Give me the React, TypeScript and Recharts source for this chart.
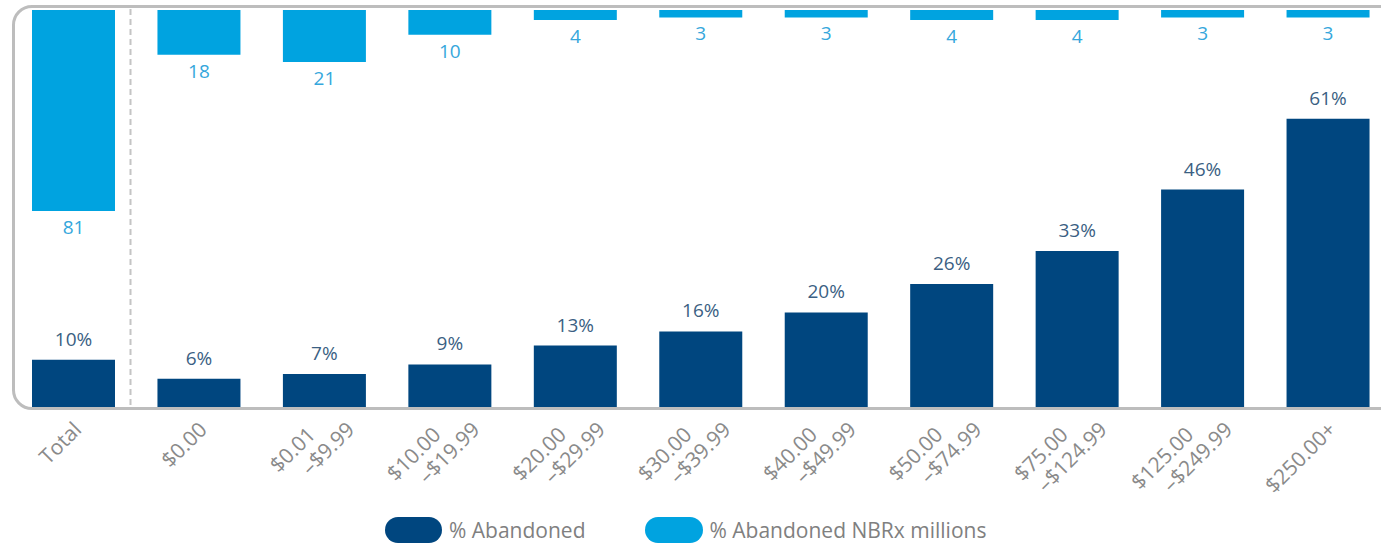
import React from 'react';
import { BarChart, Bar, XAxis, YAxis, LabelList, Legend } from 'recharts';

// Price ranges (out-of-pocket cost per Rx)
const categories = [
  'Total',
  '$0.00',
  '$0.01–$9.99',
  '$10.00–$19.99',
  '$20.00–$29.99',
  '$30.00–$39.99',
  '$40.00–$49.99',
  '$50.00–$74.99',
  '$75.00–$124.99',
  '$125.00–$249.99',
  '$250.00+',
];

// % Abandoned (dark bars, from bottom)
const pctAbandoned = [10, 6, 7, 9, 13, 16, 20, 26, 33, 46, 61];

// % Abandoned NBRx millions (light bars, hanging from top)
const nbrxMillions = [81, 18, 21, 10, 4, 3, 3, 4, 4, 3, 3];

const DARK = '#00467f';
const LIGHT = '#00a3e0';
const FONT = '"Open Sans", sans-serif';

const data = categories.map((name, i) => ({
  name,
  pct: pctAbandoned[i],
  nbrx: nbrxMillions[i],
}));

const PctLabel = (props: any) => {
  const { x, y, width, height, value } = props;
  const top = Math.min(y, y + height);
  return (
    <text x={x + width / 2} y={top - 14} textAnchor="middle" fill="#3b5f83" fontSize={19} fontFamily={FONT}>
      {value}%
    </text>
  );
};

const NbrxLabel = (props: any) => {
  const { x, y, width, height, value } = props;
  const bottom = Math.max(y, y + height);
  return (
    <text x={x + width / 2} y={bottom + 23} textAnchor="middle" fill="#35a7dc" fontSize={19} fontFamily={FONT}>
      {value}
    </text>
  );
};

// rotated range labels, split in two lines at the dash
const RangeTick = (props: any) => {
  const { x, y, payload } = props;
  const parts = String(payload.value).split('–');
  const style = { fill: '#8a8a8a', fontSize: 21, fontFamily: FONT };
  if (parts.length < 2) {
    return (
      <g transform={`translate(${x + 9},${y + 24})`}>
        <text transform="rotate(-45)" textAnchor="end" {...style}>
          {payload.value}
        </text>
      </g>
    );
  }
  return (
    <g>
      <g transform={`translate(${x - 8},${y + 29})`}>
        <text transform="rotate(-45)" textAnchor="end" {...style}>
          {parts[0]}
        </text>
      </g>
      <g transform={`translate(${x + 31},${y + 24})`}>
        <text transform="rotate(-45)" textAnchor="end" {...style}>
          {'–' + parts[1]}
        </text>
      </g>
    </g>
  );
};

const LegendContent = () => (
  <div style={{ display: 'flex', alignItems: 'center', height: 26, paddingLeft: 385, fontFamily: FONT, fontSize: 21, color: '#808080' }}>
    <div style={{ width: 57, height: 26, borderRadius: 13, background: DARK }} />
    <span style={{ marginLeft: 7, lineHeight: '26px' }}>% Abandoned</span>
    <div style={{ width: 58, height: 26, borderRadius: 13, background: LIGHT, marginLeft: 59 }} />
    <span style={{ marginLeft: 7, lineHeight: '26px' }}>% Abandoned NBRx millions</span>
  </div>
);

export default function App() {
  return (
    <div style={{ position: 'absolute', left: 0, top: 0, width: 1381, height: 543, overflow: 'hidden', background: '#fff' }}>
      {/* rounded panel behind the bars */}
      <div
        style={{
          position: 'absolute',
          left: 12,
          top: 5,
          width: 1420,
          height: 405,
          boxSizing: 'border-box',
          border: '3px solid #bdbdbd',
          borderRadius: 20,
        }}
      />
      {/* dashed divider between Total and the ranges */}
      <svg style={{ position: 'absolute', left: 0, top: 0 }} width={200} height={420}>
        <line x1={130.5} x2={130.5} y1={9} y2={407} stroke="#c4c4c4" strokeWidth={2} strokeDasharray="6 4" />
      </svg>
      <div style={{ position: 'absolute', left: 0, top: 0 }}>
        <BarChart width={1400} height={543} data={data} margin={{ top: 10, right: 9, left: 11, bottom: 0 }}>
          <XAxis
            xAxisId="a"
            dataKey="name"
            height={110}
            axisLine={false}
            tickLine={false}
            tickSize={0}
            tickMargin={0}
            interval={0}
            tick={<RangeTick />}
          />
          <XAxis xAxisId="b" dataKey="name" hide />
          <YAxis yAxisId="pct" hide domain={[0, 84]} />
          <YAxis yAxisId="nbrx" hide domain={[0, 160]} reversed />
          <Bar xAxisId="a" yAxisId="pct" dataKey="pct" name="% Abandoned" fill={DARK} barSize={83} isAnimationActive={false}>
            <LabelList dataKey="pct" content={PctLabel} />
          </Bar>
          <Bar xAxisId="b" yAxisId="nbrx" dataKey="nbrx" name="% Abandoned NBRx millions" fill={LIGHT} barSize={83} isAnimationActive={false}>
            <LabelList dataKey="nbrx" content={NbrxLabel} />
          </Bar>
          <Legend verticalAlign="bottom" height={26} content={<LegendContent />} wrapperStyle={{ left: 0, width: 1400 }} />
        </BarChart>
      </div>
    </div>
  );
}
